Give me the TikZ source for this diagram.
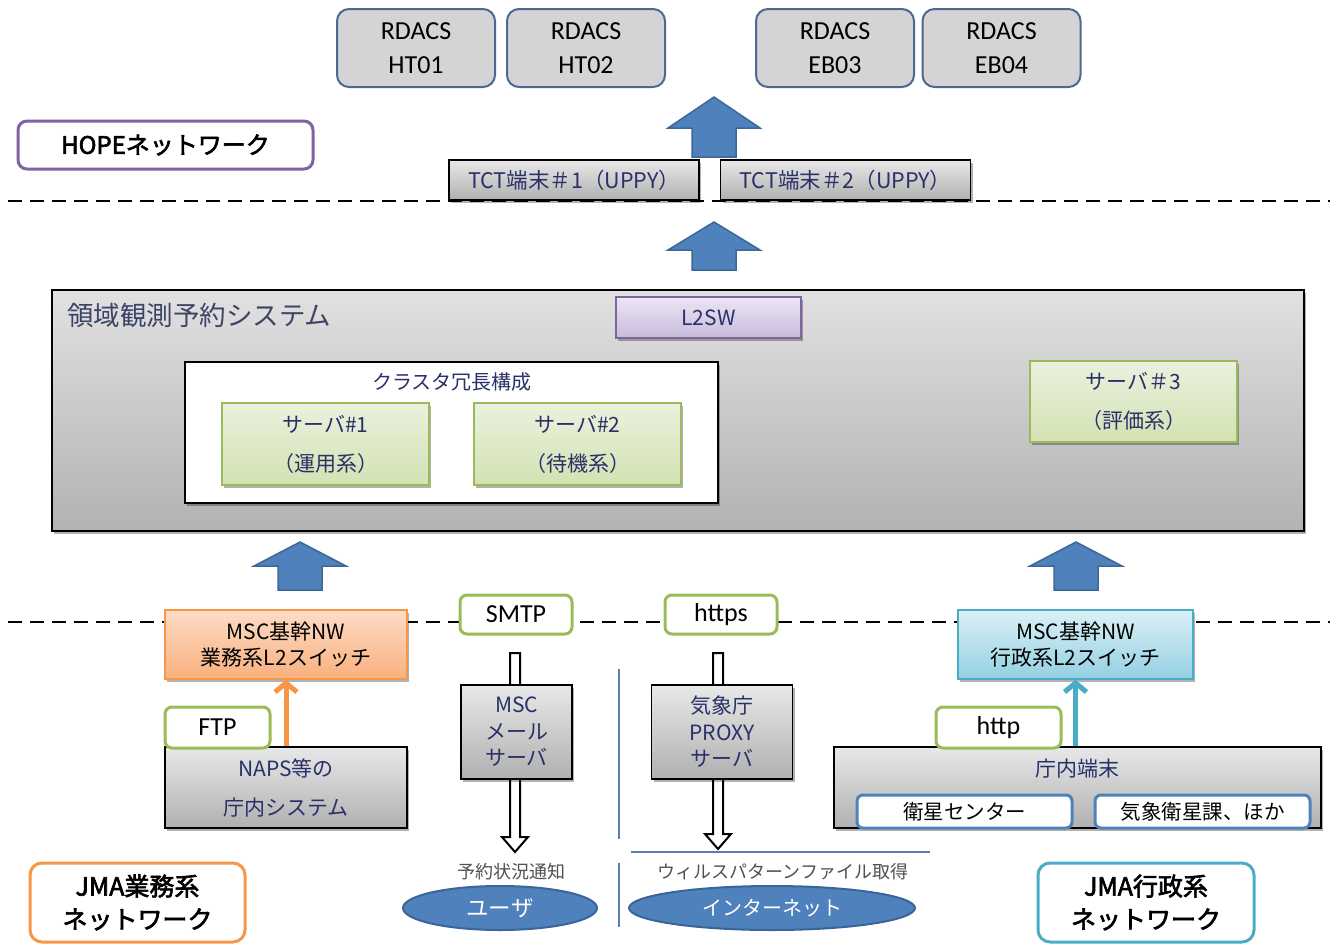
\documentclass[tikz,border=0pt]{standalone}
\usepackage{fontspec}
\setmainfont{Noto Sans CJK JP}[AutoFakeBold=2.5]
\newfontfamily\lat{Carlito}
\usetikzlibrary{arrows.meta,shadows,shapes.geometric}

\definecolor{navy}{HTML}{2A3068}
\definecolor{titlegray}{HTML}{3C4466}
\definecolor{rdfill}{HTML}{D4D4D4}
\definecolor{rdline}{HTML}{4A6A91}
\definecolor{ablue}{HTML}{4F81BD}
\definecolor{ablueline}{HTML}{3C6796}
\definecolor{purp}{HTML}{8064A2}
\definecolor{grn}{HTML}{9BBB59}
\definecolor{orng}{HTML}{F79646}
\definecolor{tealc}{HTML}{4BACC6}
\definecolor{gtop}{HTML}{E8E8E8}
\definecolor{gbot}{HTML}{B0B0B0}
\definecolor{systop}{HTML}{E2E1E1}
\definecolor{sysbot}{HTML}{B2B2B2}
\definecolor{gntop}{HTML}{EBF1DE}
\definecolor{gnbot}{HTML}{D3E2B3}
\definecolor{ptop}{HTML}{ECE6F3}
\definecolor{pbot}{HTML}{C8BADC}
\definecolor{otop}{HTML}{FCDCC6}
\definecolor{obot}{HTML}{F9B07E}
\definecolor{ttop}{HTML}{DCF0F6}
\definecolor{tbot}{HTML}{93D0E2}
\definecolor{ellline}{HTML}{3A6598}
\definecolor{sepline}{HTML}{5B7DB5}
\definecolor{notegray}{HTML}{505050}

% block arrow: centre x, tip y, bottom y, head height
\newcommand\blockarrow[4]{%
  \filldraw[blk] ({#1-22},#3) -- ({#1-22},{#2+#4}) -- ({#1-46},{#2+#4}) -- (#1,#2)
    -- ({#1+46},{#2+#4}) -- ({#1+22},{#2+#4}) -- ({#1+22},#3) -- cycle;}
% hollow downward arrow: centre x, top y, tip y
\newcommand\hollowarrow[3]{%
  \filldraw[hollow] ({#1-5},#2) -- ({#1-5},{#3-15}) -- ({#1-13},{#3-15}) -- (#1,#3)
    -- ({#1+13},{#3-15}) -- ({#1+5},{#3-15}) -- ({#1+5},#2) -- cycle;}

\begin{document}
\begin{tikzpicture}[x=1pt,y=-1pt,
  base/.style={rectangle, inner sep=0pt, align=center},
  shadowed/.style={drop shadow={shadow xshift=2pt, shadow yshift=-2.5pt, opacity=0.3, fill=black}},
  rdacs/.style={base, rounded corners=12pt, fill=rdfill, draw=rdline, line width=2pt,
    minimum width=158pt, minimum height=78pt, font=\lat\fontsize{26}{34}\selectfont},
  graybox/.style={base, draw=black, line width=1.5pt, top color=gtop, bottom color=gbot,
    text=navy, shadowed},
  tct/.style={graybox, minimum width=250pt, minimum height=40pt, font=\fontsize{21.5}{24}\selectfont},
  srv/.style={base, draw=grn, line width=1.5pt, top color=gntop, bottom color=gnbot, text=navy,
    minimum width=207pt, minimum height=82pt, font=\fontsize{21}{39}\selectfont, shadowed},
  proto/.style={base, rounded corners=7pt, draw=grn, line width=3pt, fill=white,
    font=\lat\fontsize{26}{30}\selectfont},
  netlabel/.style={base, rounded corners=12pt, fill=white, line width=3pt,
    font=\bfseries\fontsize{25}{33}\selectfont},
  subbox/.style={base, rounded corners=6pt, draw=ablue, line width=3pt, fill=white,
    minimum width=215pt, minimum height=33pt, font=\fontsize{20.5}{24}\selectfont},
  blk/.style={draw=ablueline, fill=ablue, line width=1.5pt},
  hollow/.style={draw=black, fill=white, line width=2pt},
  cloud/.style={ellipse, fill=ablue, draw=ellline, line width=2pt, text=white, inner sep=0pt},
  dashline/.style={line width=2pt, dash pattern=on 14pt off 8pt},
  note/.style={text=notegray, font=\fontsize{18}{22}\selectfont},
  sepl/.style={draw=sepline, line width=1.5pt}
]
\useasboundingbox (0,0) rectangle (1335,945);

% network boundaries
\draw[dashline] (8,201) -- (1330,201);
\draw[dashline] (8,622) -- (1330,622);

% RDACS stations
\node[rdacs] (ht01) at (416,48)   {RDACS\\HT01};
\node[rdacs] (ht02) at (586,48)   {RDACS\\HT02};
\node[rdacs] (eb03) at (835,48)   {RDACS\\EB03};
\node[rdacs] (eb04) at (1001.5,48) {RDACS\\EB04};

% HOPE network label
\node[netlabel, draw=purp, minimum width=295pt, minimum height=48pt, rounded corners=9pt,
  font=\bfseries\fontsize{24}{28}\selectfont] (hope) at (165.5,145) {HOPEネットワーク};

% upward block arrows
\blockarrow{714}{97}{157}{31}
\blockarrow{714}{222}{270}{28}
\blockarrow{300}{542}{590}{24}
\blockarrow{1076}{542}{590}{24}

% TCT terminals
\node[tct] (tct1) at (574,180)   {TCT端末＃1（UPPY）};
\node[tct] (tct2) at (845.5,180) {TCT端末＃2（UPPY）};

% observation reservation system
\node[base, draw=black, line width=1.5pt, top color=systop, bottom color=sysbot,
  minimum width=1252pt, minimum height=241pt, shadowed] (sys) at (678,410.5) {};
\node[anchor=west, inner sep=0pt, text=titlegray, font=\fontsize{26.5}{30}\selectfont]
  (systitle) at (67,315) {領域観測予約システム};
\node[base, draw=purp, line width=1.5pt, top color=ptop, bottom color=pbot, text=navy,
  minimum width=185pt, minimum height=41pt, font=\fontsize{21}{24}\selectfont, shadowed]
  (l2sw) at (708.5,317.5) {L2SW};

% cluster
\node[base, draw=black, line width=1.5pt, fill=white, minimum width=533pt,
  minimum height=141pt, shadowed] (cluster) at (451.5,432.5) {};
\node[text=navy, inner sep=0pt, font=\fontsize{20}{24}\selectfont] (cltitle) at (452,382)
  {クラスタ冗長構成};
\node[srv] (srv1) at (325.5,444) {サーバ\#1\\（運用系）};
\node[srv] (srv2) at (577.5,444) {サーバ\#2\\（待機系）};
\node[srv, minimum height=81pt] (srv3) at (1133.5,401.5) {サーバ＃3\\（評価系）};

% backbone switches
\node[base, draw=orng, line width=1.5pt, top color=otop, bottom color=obot,
  minimum width=242pt, minimum height=69pt, font=\fontsize{21}{26}\selectfont, shadowed]
  (l2a) at (286,644.5) {MSC基幹NW\\業務系L2スイッチ};
\node[base, draw=tealc, line width=1.5pt, top color=ttop, bottom color=tbot,
  minimum width=235pt, minimum height=69pt, font=\fontsize{21}{26}\selectfont, shadowed]
  (l2b) at (1075.5,644.5) {MSC基幹NW\\行政系L2スイッチ};

% protocol tags
\node[proto, minimum width=112pt, minimum height=39pt] (smtp)  at (516,614.5) {SMTP};
\node[proto, minimum width=112pt, minimum height=39pt] (https) at (721,614.5) {https};

% outbound hollow arrows and relay servers
\hollowarrow{515}{653}{852}
\hollowarrow{718}{653}{849}
\node[graybox, minimum width=111pt, minimum height=94pt, font=\fontsize{21}{26.5}\selectfont]
  (mail) at (516.5,732) {MSC\\メール\\サーバ};
\node[graybox, minimum width=141pt, minimum height=94pt, font=\fontsize{21}{26.5}\selectfont]
  (proxy) at (722,732) {気象庁\\PROXY\\サーバ};

% separators
\draw[sepl] (619,669) -- (619,839);
\draw[sepl] (619,863) -- (619,927);
\draw[sepl] (631,852) -- (930,852);

% destinations
\node[note] (notify) at (511,872) {予約状況通知};
\node[note] (virus)  at (783,872) {ウィルスパターンファイル取得};
\node[cloud, minimum width=194pt, minimum height=44pt, font=\fontsize{22.5}{24}\selectfont]
  (user) at (500,908) {ユーザ};
\node[cloud, minimum width=286pt, minimum height=44pt, font=\fontsize{20}{24}\selectfont]
  (inet) at (772,908) {インターネット};

% operational side
\node[graybox, minimum width=242pt, minimum height=81pt, font=\fontsize{21}{39}\selectfont]
  (naps) at (286,787.5) {NAPS等の\\庁内システム};
\draw[orng, line width=5pt, -{Straight Barb[length=9pt,width=22pt]}] (naps.north) -- (l2a.south);
\node[proto, minimum width=105pt, minimum height=41pt] (ftp) at (217.5,727.5) {FTP};

% administrative side
\node[graybox, minimum width=487pt, minimum height=81pt] (term) at (1077.5,787.5) {};
\node[text=navy, inner sep=0pt, font=\fontsize{21}{24}\selectfont] (termtitle) at (1077,769)
  {庁内端末};
\node[subbox] (sat)  at (964.5,811.5)  {衛星センター};
\node[subbox] (misc) at (1202.5,811.5) {気象衛星課、ほか};
\draw[tealc, line width=5pt, -{Straight Barb[length=9pt,width=22pt]}]
  (l2b.south |- term.north) -- (l2b.south);
\node[proto, minimum width=125pt, minimum height=41pt] (http) at (998.5,727.5) {http};

% network labels
\node[netlabel, draw=orng, minimum width=215pt, minimum height=79pt] (jmaops)
  at (137.5,902.5) {JMA業務系\\ネットワーク};
\node[netlabel, draw=tealc, minimum width=216pt, minimum height=79pt] (jmaadm)
  at (1146,902.5) {JMA行政系\\ネットワーク};
\end{tikzpicture}
\end{document}
